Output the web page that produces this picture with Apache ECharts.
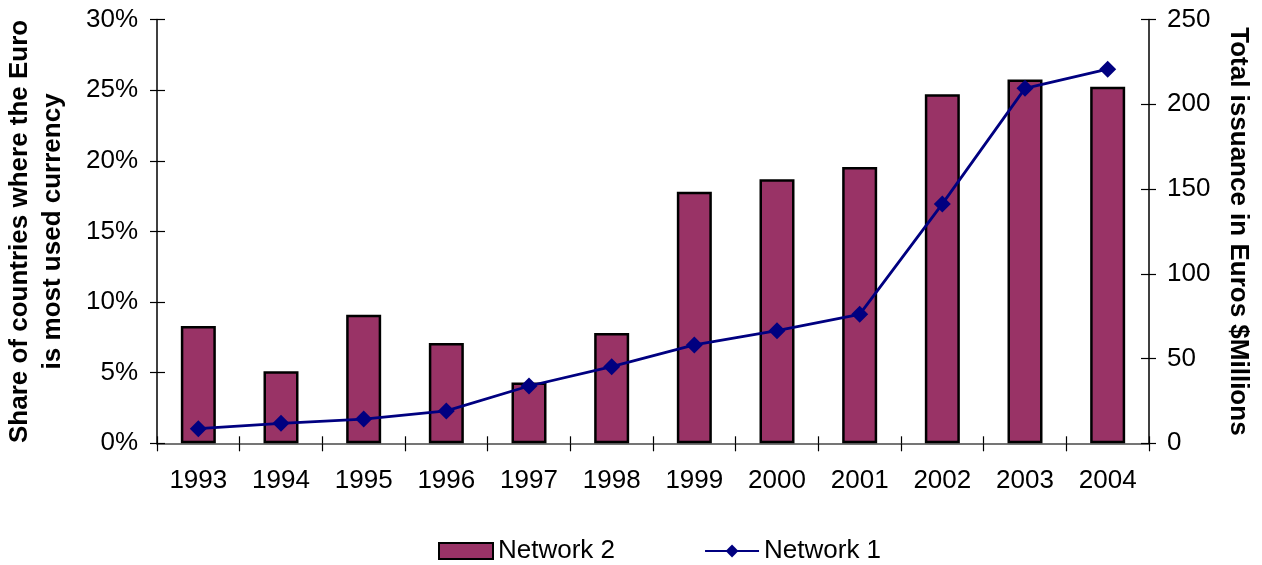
<!DOCTYPE html>
<html>
<head>
<meta charset="utf-8">
<script src="https://cdn.jsdelivr.net/npm/echarts@6/dist/echarts.min.js"></script>
<style>html,body{margin:0;padding:0;background:#fff}#c{width:1262px;height:565px}</style>
</head>
<body>
<div id="c"></div>
<script>
var years = ['1993','1994','1995','1996','1997','1998','1999','2000','2001','2002','2003','2004'];
var network2 = [8.3, 5.1, 9.1, 7.1, 4.3, 7.8, 17.8, 18.7, 19.55, 24.7, 25.76, 25.24];
var network1 = [8.6, 11.8, 14.3, 19.1, 33.8, 45.2, 58, 66.4, 76.1, 141.2, 209.4, 220.7];
var leftTicks = {min: 0, max: 30, interval: 5};
var rightTicks = {min: 0, max: 250, interval: 50};

var font = 'Liberation Sans, Arial, sans-serif';
var chart = echarts.init(document.getElementById('c'));
var axisLine = {show: true, lineStyle: {color: '#000', width: 1.5}};
chart.setOption({
  animation: false,
  textStyle: {fontFamily: font},
  grid: {left: 157, right: 113, top: 19.5, bottom: 121.7, containLabel: false, outerBoundsMode: 'none'},
  legend: {
    left: 433, top: 533, itemWidth: 54, itemHeight: 16, itemGap: 89,
    textStyle: {fontSize: 26, color: '#000', fontFamily: font},
    data: [
      {name: 'Network 2', icon: 'rect'},
      {name: 'Network 1'}
    ]
  },
  xAxis: [
    {type: 'category', data: years, position: 'bottom',
     axisLine: axisLine,
     axisTick: {show: true, alignWithLabel: false, length: 8, lineStyle: {color: '#000', width: 1.2}},
     axisLabel: {fontSize: 26, color: '#000', margin: 25, fontFamily: font}},
    {type: 'category', data: years, position: 'top', gridIndex: 0,
     axisLine: {show: true, lineStyle: {color: '#888', width: 1.5}},
     axisTick: {show: false}, axisLabel: {show: false}},
    {type: 'category', data: years, position: 'bottom', gridIndex: 0,
     axisLine: {show: false},
     axisTick: {show: true, inside: true, length: 7, lineStyle: {color: '#000', width: 1.2}},
     axisLabel: {show: false}}
  ],
  yAxis: [
    {type: 'value', position: 'left', min: leftTicks.min, max: leftTicks.max, interval: leftTicks.interval,
     name: 'Share of countries where the Euro\nis most used currency',
     nameLocation: 'middle', nameRotate: 90, nameGap: 88,
     nameTextStyle: {fontSize: 26, fontWeight: 'bold', color: '#000', lineHeight: 33, fontFamily: font},
     axisLine: axisLine,
     axisTick: {show: true, length: 7, lineStyle: {color: '#000', width: 1.2}},
     splitLine: {show: false},
     axisLabel: {formatter: '{value}%', fontSize: 26, color: '#000', margin: 19, fontFamily: font}},
    {type: 'value', position: 'right', min: rightTicks.min, max: rightTicks.max, interval: rightTicks.interval,
     name: 'Total issuance in Euros $Millions',
     nameLocation: 'middle', nameRotate: -90, nameGap: 76,
     nameTextStyle: {fontSize: 26, fontWeight: 'bold', color: '#000', fontFamily: font},
     axisLine: axisLine,
     axisTick: {show: true, length: 7, lineStyle: {color: '#000', width: 1.2}},
     splitLine: {show: false},
     axisLabel: {fontSize: 26, color: '#000', margin: 18, fontFamily: font}},
    {type: 'value', position: 'left', min: leftTicks.min, max: leftTicks.max, interval: leftTicks.interval,
     axisLine: {show: false}, splitLine: {show: false}, axisLabel: {show: false},
     axisTick: {show: true, inside: true, length: 8, lineStyle: {color: '#000', width: 1.2}}},
    {type: 'value', position: 'right', min: rightTicks.min, max: rightTicks.max, interval: rightTicks.interval,
     axisLine: {show: false}, splitLine: {show: false}, axisLabel: {show: false},
     axisTick: {show: true, inside: true, length: 8, lineStyle: {color: '#000', width: 1.2}}}
  ],
  series: [
    {name: 'Network 2', type: 'bar', xAxisIndex: 0, yAxisIndex: 0, data: network2,
     barWidth: 35,
     itemStyle: {color: '#993366', borderColor: '#000', borderWidth: 2.5}},
    {name: 'Network 1', type: 'line', xAxisIndex: 0, yAxisIndex: 1, data: network1,
     symbol: 'diamond', symbolSize: 17,
     lineStyle: {color: '#000080', width: 2.8},
     itemStyle: {color: '#000080'}}
  ]
});
</script>
</body>
</html>
